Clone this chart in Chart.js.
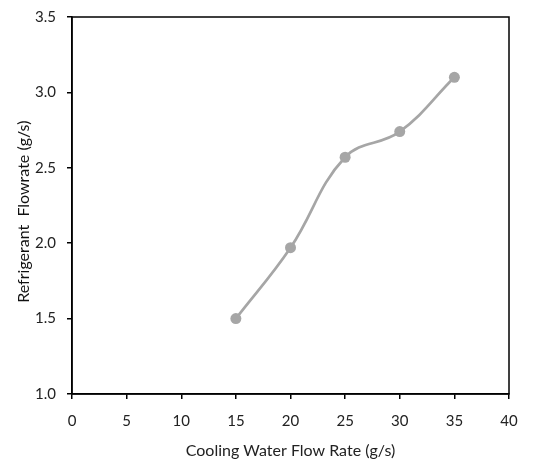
<!DOCTYPE html>
<html>
<head>
<meta charset="utf-8">
<script src="https://cdn.jsdelivr.net/npm/chart.js@4"></script>
<style>
  html, body { margin: 0; padding: 0; background: #fff; }
  #wrap { width: 548px; height: 464px; }
</style>
</head>
<body>
<div id="wrap"><canvas id="flowChart" width="548" height="464"></canvas></div>
<script>
// data
const waterFlow = [15, 20, 25, 30, 35];
const refrigerantFlow = [1.50, 1.97, 2.57, 2.74, 3.10];
const xTicks = [0, 5, 10, 15, 20, 25, 30, 35, 40];
const yTicks = [1.0, 1.5, 2.0, 2.5, 3.0, 3.5];

const points = waterFlow.map((x, i) => ({ x: x, y: refrigerantFlow[i] }));

// draws the box round the plot area
const boxPlugin = {
    id: 'box',
    afterDraw(chart) {
        const a = chart.chartArea;
        const ctx = chart.ctx;
        ctx.save();
        ctx.strokeStyle = '#000';
        ctx.lineWidth = 1.5;
        ctx.strokeRect(a.left, a.top, a.right - a.left, a.bottom - a.top);
        ctx.restore();
    }
};

new Chart(document.getElementById('flowChart'), {
    type: 'scatter',
    data: {
        datasets: [{
            data: points,
            showLine: true,
            tension: 0.4,
            borderColor: '#a6a6a6',
            borderWidth: 2.7,
            backgroundColor: '#a6a6a6',
            pointRadius: 5.5,
            pointBorderWidth: 0,
            pointHoverRadius: 5.5
        }]
    },
    options: {
        responsive: false,
        animation: false,
        layout: { padding: { top: 17, right: 39, left: 0, bottom: 0 } },
        plugins: {
            legend: { display: false },
            tooltip: { enabled: false }
        },
        scales: {
            x: {
                type: 'linear',
                min: 0,
                max: 40,
                afterBuildTicks: s => { s.ticks = xTicks.map(v => ({ value: v })); },
                afterFit: s => { s.height = 70; },
                grid: { drawOnChartArea: false, color: '#000', tickLength: 5, lineWidth: 1.5 },
                border: { color: '#000', width: 1.5 },
                ticks: { color: '#222', font: { family: 'Lato', size: 15 }, padding: 13 },
                title: {
                    display: true,
                    text: 'Cooling Water Flow Rate (g/s)',
                    color: '#222',
                    font: { family: 'Lato', size: 16 },
                    padding: { top: 6 }
                }
            },
            y: {
                min: 1,
                max: 3.5,
                afterBuildTicks: s => { s.ticks = yTicks.map(v => ({ value: v })); },
                afterFit: s => { s.width = 72; s.paddingTop = 0; s.paddingBottom = 0; },
                grid: { drawOnChartArea: false, color: '#000', tickLength: 5, lineWidth: 1.5 },
                border: { color: '#000', width: 1.5 },
                ticks: {
                    color: '#222',
                    font: { family: 'Lato', size: 15 },
                    padding: 11,
                    callback: v => v.toFixed(1)
                },
                title: {
                    display: true,
                    text: 'Refrigerant  Flowrate (g/s)   ',
                    color: '#111',
                    font: { family: 'Lato', size: 16 },
                    padding: { top: 14, bottom: 0 }
                }
            }
        }
    },
    plugins: [boxPlugin]
});
</script>
</body>
</html>
